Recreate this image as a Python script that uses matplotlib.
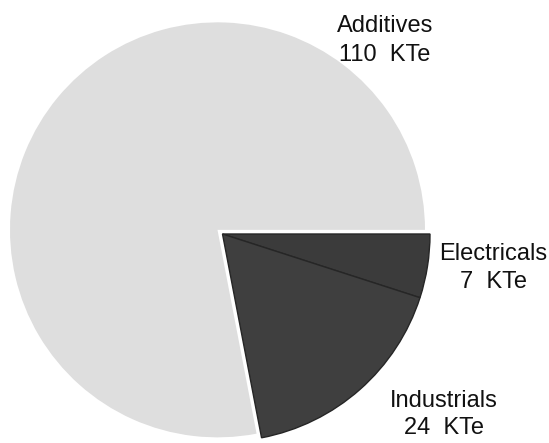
import matplotlib
matplotlib.use("Agg")
import matplotlib.pyplot as plt

plt.rcParams.update({
    "font.family": "sans-serif",
    "font.sans-serif": ["Liberation Sans", "DejaVu Sans"],
    "font.size": 17,
})

# ---------------------------------------------------------
# Data (KTe)
# ---------------------------------------------------------
categories = ["Electricals", "Industrials", "Additives"]
values     = [7, 24, 110]
units      = "KTe"

# ---------------------------------------------------------
# Styling / layout (pixel-like data coords, y downwards)
# ---------------------------------------------------------
colors   = ["#3b3b3b", "#3f3f3f", "#dedede"]
explode  = [0.0, 0.0, 6.5]       # in data units here (pixels): white gap
center   = (222.5, 234.0)
radius   = 207.5

# label anchor x, baseline of name line, baseline of value line
label_pos = {
    "Additives":   (385, 32, 61),
    "Electricals": (493, 260, 288),
    "Industrials": (444, 407, 434),
}

fig = plt.figure(figsize=(5.49, 4.43), dpi=100)
ax = fig.add_axes([0, 0, 1, 1])

wedges, _ = ax.pie(
    values,
    colors=colors,
    explode=explode,
    startangle=0,
    counterclock=True,      # y axis is flipped below -> visually clockwise
    center=center,
    radius=radius,
    wedgeprops=dict(linewidth=0),
)
for w in wedges[:2]:
    w.set_edgecolor("#262626")
    w.set_linewidth(1.0)

ax.set_xlim(0, 549)
ax.set_ylim(443, 0)
ax.set_aspect("equal")
ax.axis("off")

for name, val in zip(categories, values):
    x, y1, y2 = label_pos[name]
    ax.text(x, y1, name, ha="center", va="baseline", color="#111111")
    ax.text(x, y2, f"{val}  {units}", ha="center", va="baseline", color="#111111")

plt.savefig("out.png", dpi=100)
plt.close()
